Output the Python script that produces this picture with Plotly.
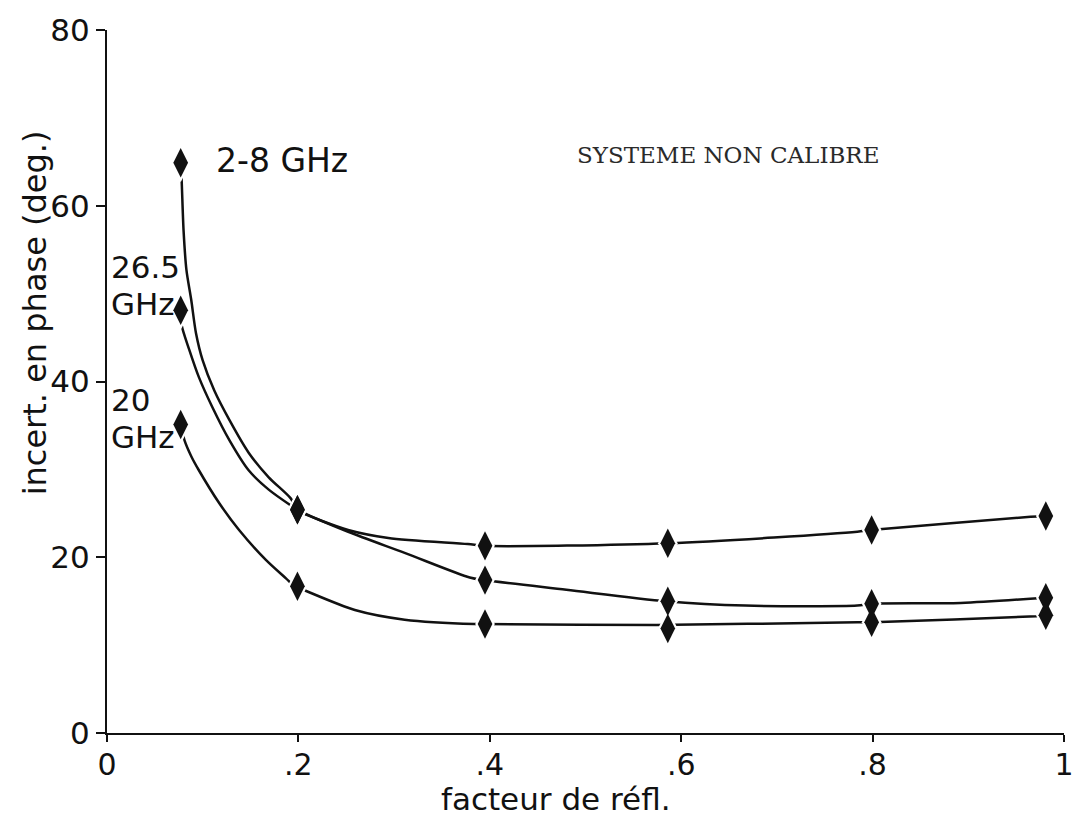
import plotly.graph_objects as go

# ---- data ----
# marker positions (reflection factor, phase uncertainty in degrees)
x_markers = [0.077, 0.199, 0.395, 0.586, 0.799, 0.981]
y_2_8 = [64.9, 25.4, 21.3, 21.6, 23.1, 24.7]
y_26_5 = [48.1, 25.4, 17.4, 15.0, 14.7, 15.4]
y_20 = [35.1, 16.7, 12.4, 11.9, 12.6, 13.4]

# hand-drawn curve paths
curve_x_2_8 = [0.077, 0.078, 0.080, 0.083, 0.088, 0.093, 0.100, 0.112, 0.128, 0.148, 0.169, 0.192,
               0.199, 0.203, 0.252, 0.294, 0.377, 0.395, 0.587, 0.784, 0.798, 0.965, 0.980]
curve_y_2_8 = [64.9, 62.9, 57.2, 52.7, 49.3, 45.5, 42.4, 39.0, 35.6, 31.9, 29.1, 26.7,
               25.4, 25.1, 23.1, 22.2, 21.5, 21.3, 21.6, 22.9, 23.1, 24.6, 24.7]

curve_x_26_5 = [0.077, 0.078, 0.086, 0.096, 0.110, 0.128, 0.148, 0.169, 0.192, 0.199, 0.252, 0.311,
                0.379, 0.394, 0.480, 0.584, 0.667, 0.784, 0.798, 0.892, 0.981]
curve_y_26_5 = [48.1, 46.4, 43.6, 40.5, 37.1, 33.3, 29.9, 27.7, 25.9, 25.4, 22.9, 20.5,
                17.7, 17.4, 16.3, 15.0, 14.5, 14.5, 14.7, 14.8, 15.4]

curve_x_20 = [0.077, 0.081, 0.088, 0.096, 0.117, 0.138, 0.166, 0.187, 0.196, 0.205, 0.259, 0.311,
              0.384, 0.394, 0.574, 0.784, 0.800, 0.971, 0.981]
curve_y_20 = [35.1, 33.3, 31.5, 29.9, 26.2, 23.1, 19.7, 17.6, 16.7, 16.3, 14.0, 12.9,
              12.4, 12.4, 12.3, 12.6, 12.6, 13.3, 13.4]

x_tick_vals = [0, 0.2, 0.4, 0.6, 0.8, 1.0]
x_tick_text = ["0", ".2", ".4", ".6", ".8", "1"]
y_tick_vals = [0, 20, 40, 60, 80]
y_tick_text = ["0", "20", "40", "60", "80"]

INK = "#111111"
FONT = "DejaVu Sans"

fig = go.Figure()

curves = [
    (curve_x_2_8, curve_y_2_8, "2-8 GHz"),
    (curve_x_26_5, curve_y_26_5, "26.5 GHz"),
    (curve_x_20, curve_y_20, "20 GHz"),
]
for cx, cy, name in curves:
    fig.add_trace(go.Scatter(
        x=cx, y=cy, mode="lines", name=name,
        line=dict(color=INK, width=2.5, shape="spline", smoothing=0.8),
        showlegend=False, hoverinfo="skip",
    ))

series = [(y_2_8, "2-8 GHz"), (y_26_5, "26.5 GHz"), (y_20, "20 GHz")]
# white halo under every marker: gives the small gaps in the hand-drawn lines
for ys, name in series:
    fig.add_trace(go.Scatter(
        x=x_markers, y=ys, mode="markers", name=name,
        marker=dict(symbol="diamond-tall", size=28, color="white", line=dict(width=0)),
        cliponaxis=False, showlegend=False, hoverinfo="skip",
    ))
for ys, name in series:
    fig.add_trace(go.Scatter(
        x=x_markers, y=ys, mode="markers", name=name,
        marker=dict(symbol="diamond-tall", size=21, color=INK, line=dict(width=0)),
        cliponaxis=False, showlegend=False,
    ))

ann_font = dict(family=FONT, size=31, color=INK)
annotations = [
    dict(x=0.112, y=65.2, xref="x", yref="y", text="2-8 GHz", showarrow=False,
         xanchor="left", yanchor="middle", font=dict(family=FONT, size=33, color=INK)),
    dict(x=0.002, y=53.0, xref="x", yref="y", text="26.5", showarrow=False,
         xanchor="left", yanchor="middle", font=ann_font),
    dict(x=0.002, y=48.8, xref="x", yref="y", text="GHz", showarrow=False,
         xanchor="left", yanchor="middle", font=ann_font),
    dict(x=0.002, y=37.9, xref="x", yref="y", text="20", showarrow=False,
         xanchor="left", yanchor="middle", font=ann_font),
    dict(x=0.002, y=33.7, xref="x", yref="y", text="GHz", showarrow=False,
         xanchor="left", yanchor="middle", font=ann_font),
    dict(x=0.649, y=65.8, xref="x", yref="y", text="SYSTEME NON CALIBRE", showarrow=False,
         xanchor="center", yanchor="middle",
         font=dict(family="DejaVu Serif", size=23, color="#2a2a2a")),
    dict(x=-0.0752, y=0.597, xref="paper", yref="paper", text="incert. en phase (deg.)",
         showarrow=False, textangle=-90, xanchor="center", yanchor="middle",
         font=dict(family=FONT, size=32, color=INK)),
    dict(x=0.469, y=-0.1223, xref="paper", yref="paper", text="facteur de réfl.",
         showarrow=False, xanchor="center", yanchor="bottom",
         font=dict(family=FONT, size=31, color=INK)),
]

fig.update_layout(
    width=1078, height=819,
    margin=dict(l=107, r=14, t=30, b=86, pad=0, autoexpand=False),
    paper_bgcolor="white", plot_bgcolor="white",
    font=dict(family=FONT, color=INK),
    annotations=annotations,
    xaxis=dict(range=[0, 1], tickvals=x_tick_vals, ticktext=x_tick_text,
               automargin=False,
               showgrid=False, zeroline=False, showline=True, linecolor=INK, linewidth=2,
               ticks="outside", ticklen=7, tickwidth=2, tickcolor=INK,
               ticklabelstandoff=-3, ticklabeloverflow="allow",
               tickfont=dict(family=FONT, size=30, color=INK)),
    yaxis=dict(range=[0, 80], tickvals=y_tick_vals, ticktext=y_tick_text,
               automargin=False,
               showgrid=False, zeroline=False, showline=True, linecolor=INK, linewidth=2,
               ticks="outside", ticklen=9, tickwidth=2, tickcolor=INK,
               tickfont=dict(family=FONT, size=31, color=INK)),
)

fig.write_html("out.html")
